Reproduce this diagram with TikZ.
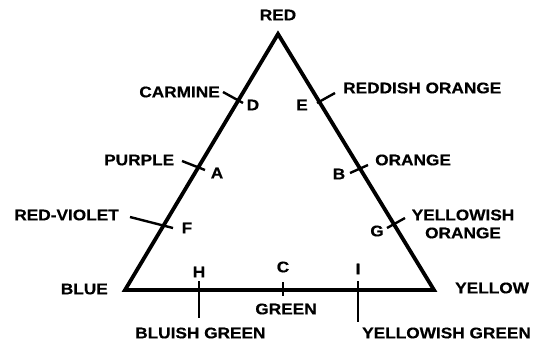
\documentclass[tikz,border=0pt]{standalone}
\usepackage{fontspec}
\newfontfamily\labfont{Liberation Sans}[FakeStretch=1.12,FakeBold=0.5]
\begin{document}
\begin{tikzpicture}[x=1pt,y=-1pt,
  side/.style={line width=3.8pt,line join=miter,line cap=butt},
  tick/.style={line width=2.4pt},
  lab/.style={inner sep=0pt,font=\labfont\bfseries\fontsize{15.4}{18}\selectfont,align=center}]
\useasboundingbox (0,0) rectangle (534,346);
% vertices
\coordinate (R) at (278,34);
\coordinate (Bl) at (125,290);
\coordinate (Y) at (434,290);
\draw[side] (R) -- (Y) -- (Bl) -- cycle;
% tick end points
\coordinate (d1) at (223,92);  \coordinate (d2) at (243,103);
\coordinate (a1) at (182,161); \coordinate (a2) at (205,170);
\coordinate (f1) at (130,217); \coordinate (f2) at (173,228);
\coordinate (e1) at (317,103); \coordinate (e2) at (335,93);
\coordinate (b1) at (350,173); \coordinate (b2) at (368,165);
\coordinate (g1) at (387,228); \coordinate (g2) at (405,218);
\coordinate (h1) at (199,281); \coordinate (h2) at (199,318);
\coordinate (c1) at (283,282); \coordinate (c2) at (283,296);
\coordinate (i1) at (358,281); \coordinate (i2) at (358,322);
\foreach \p in {d,a,f,e,b,g,h,c,i} \draw[tick] (\p1) -- (\p2);
% labels
\node[lab] (red) at (278,15) {RED};
\node[lab,anchor=east] (carmine) at (220,92) {CARMINE};
\node[lab] (D) at (253,105) {D};
\node[lab] (E) at (302,105) {E};
\node[lab,anchor=west] (reddish) at (343,88) {REDDISH ORANGE};
\node[lab,anchor=west] (purple) at (104,160) {PURPLE};
\node[lab] (A) at (217,173) {A};
\node[lab,anchor=east] (redviolet) at (119,215) {RED-VIOLET};
\node[lab] (F) at (187,228) {F};
\node[lab,anchor=west] (orange) at (375,160) {ORANGE};
\node[lab] (B) at (339,174) {B};
\node[lab] (yorange) at (463,224) {YELLOWISH\\ORANGE};
\node[lab] (G) at (377,231) {G};
\node[lab,anchor=east] (blue) at (108,289) {BLUE};
\node[lab] (H) at (199,272) {H};
\node[lab] (C) at (283,267) {C};
\node[lab] (I) at (358,269) {I};
\node[lab] (green) at (286,309) {GREEN};
\node[lab,anchor=west] (bgreen) at (135,333) {BLUISH GREEN};
\node[lab,anchor=west] (yellow) at (455,288) {YELLOW};
\node[lab,anchor=west] (ygreen) at (362,333) {YELLOWISH GREEN};
\end{tikzpicture}
\end{document}
